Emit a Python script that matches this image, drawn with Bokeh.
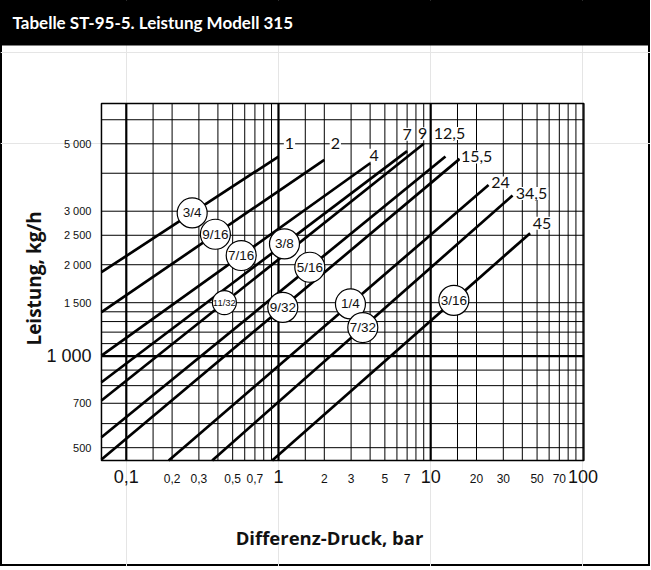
import math
from bokeh.plotting import figure
from bokeh.models import Label, Range1d, ColumnDataSource, BoxAnnotation
from bokeh.core.properties import value
from bokeh.embed import file_html
from bokeh.resources import INLINE

# ---------------- data ----------------
title_text = "Tabelle ST-95-5. Leistung Modell 315"
x_title = "Differenz-Druck, bar"
y_title = "Leistung, kg/h"

# orifice size of each line, max pressure (end of line) and its label
orifice = ["3/4", "9/16", "7/16", "3/8", "11/32", "5/16", "9/32", "1/4", "7/32", "3/16"]
p_max = [1, 2, 4, 7, 9, 12.5, 15.5, 24, 34.5, 45]
p_max_label = ["1", "2", "4", "7", "9", "12,5", "15,5", "24", "34,5", "45"]
q_at_pmax = [4540, 4430, 4315, 4730, 5000, 4540, 4460, 3660, 3380, 2540]
# lower start point of each line
dp_start = [0.0687, 0.0687, 0.0687, 0.0687, 0.0687, 0.0687, 0.0687, 0.190, 0.367, 0.909]
q_start = [1890, 1396, 1005, 821, 715, 541, 457, 454, 454, 454]
# pressure where the orifice badge sits on each line
badge_dp = [0.271, 0.385, 0.569, 1.095, 0.441, 1.606, 1.067, 2.97, 3.58, 14.2]

# axis ticks
x_tick_values = [0.1, 0.2, 0.3, 0.5, 0.7, 1, 2, 3, 5, 7, 10, 20, 30, 50, 70, 100]
x_tick_labels = ["0,1", "0,2", "0,3", "0,5", "0,7", "1", "2", "3", "5", "7",
                 "10", "20", "30", "50", "70", "100"]
x_tick_major = [0.1, 1, 10, 100]
y_tick_values = [5000, 3000, 2500, 2000, 1500, 1000, 700, 500]
y_tick_labels = ["5 000", "3 000", "2 500", "2 000", "1 500", "1 000", "700", "500"]
y_tick_major = [1000]

# grid of the log paper
x_grid_thin = [0.15, 0.2, 0.3, 0.4, 0.5, 0.6, 0.7, 0.8, 0.9, 1.5, 2, 3, 4, 5, 6, 7, 8, 9,
               15, 20, 30, 40, 50, 60, 70, 80, 90, 100]
x_grid_thick = [0.1, 1, 10]
y_grid_thin = [500, 600, 700, 800, 900, 1100, 1200, 1300, 1400, 1500, 2000, 2500,
               3000, 4000, 5000, 6000]
y_grid_thick = [1000]

# extent of the chart paper
x_lo, x_hi = 0.0687, 101.5
y_lo, y_hi = 454, 6785

# ---------------- figure (frame = whole card) ----------------
W, H = 650, 566
p = figure(width=W, height=H, x_axis_type="log", y_axis_type="log",
           x_range=Range1d(0.014913, 278.1), y_range=Range1d(203.2, 14810),
           x_axis_location=None, y_axis_location=None,
           toolbar_location=None, output_backend="svg",
           min_border_left=0, min_border_right=0, min_border_top=0, min_border_bottom=0)
p.outline_line_color = "black"
p.outline_line_width = 3
p.background_fill_color = "white"
p.border_fill_color = "white"

# title bar
p.add_layout(BoxAnnotation(bottom=10528, fill_color="black", fill_alpha=1,
                           line_alpha=0, level="underlay"))
p.text(x=[p.x_range.start], y=[p.y_range.end], text=[title_text], x_offset=12, y_offset=22,
       text_align="left", text_baseline="middle", text_color="white",
       text_font=value("Lato"), text_font_style="bold", text_font_size="17px")

# grid lines
p.segment(x0=x_grid_thin, y0=[y_lo] * len(x_grid_thin), x1=x_grid_thin, y1=[y_hi] * len(x_grid_thin),
          line_color="black", line_width=1)
p.segment(x0=x_grid_thick, y0=[y_lo] * len(x_grid_thick), x1=x_grid_thick, y1=[y_hi] * len(x_grid_thick),
          line_color="black", line_width=2.2)
p.segment(x0=[x_lo] * len(y_grid_thin), y0=y_grid_thin, x1=[x_hi] * len(y_grid_thin), y1=y_grid_thin,
          line_color="black", line_width=1)
p.segment(x0=[x_lo] * len(y_grid_thick), y0=y_grid_thick, x1=[x_hi] * len(y_grid_thick), y1=y_grid_thick,
          line_color="black", line_width=2.2)
p.quad(left=[x_lo], right=[x_hi], bottom=[y_lo], top=[y_hi], fill_alpha=0,
       line_color="black", line_width=1.5)

# capacity lines
xs = [[a, b] for a, b in zip(dp_start, p_max)]
ys = [[a, b] for a, b in zip(q_start, q_at_pmax)]
p.multi_line(xs, ys, line_color="black", line_width=2.7)

# badges on the lines
def q_on_line(i, dp):
    k = math.log(q_at_pmax[i] / q_start[i]) / math.log(p_max[i] / dp_start[i])
    return q_start[i] * (dp / dp_start[i]) ** k

bx = badge_dp
by = [q_on_line(i, d) for i, d in enumerate(badge_dp)]
bsize = [24 if o == "11/32" else 30 for o in orifice]
bfs = ["9.5px" if o == "11/32" else "13.5px" for o in orifice]
bsrc = ColumnDataSource(dict(x=bx, y=by, size=bsize, fs=bfs, t=orifice))
p.scatter("x", "y", size="size", marker="circle", source=bsrc,
          fill_color="white", line_color="black", line_width=1.2)
p.text("x", "y", text="t", source=bsrc, text_align="center", text_baseline="middle",
       text_font=value("Liberation Sans"), text_font_size="fs", text_color="#111111")

# max pressure labels at line ends (screen offsets)
lbl_off = [(11, 13), (11, 16), (4, 8), (0, 17), (-1, 10), (4, 23), (17, 2), (12, 2), (19, 2), (12, 10)]
for i, t in enumerate(p_max_label):
    dx, dy = lbl_off[i]
    p.add_layout(Label(x=p_max[i], y=q_at_pmax[i], x_offset=dx, y_offset=dy, text=t,
                       text_align="center", text_baseline="middle",
                       text_font="Lato", text_font_size="16px", text_color="#111111",
                       background_fill_color="white", padding=1))

# tick labels
xsrc = ColumnDataSource(dict(
    x=x_tick_values, y=[y_lo] * len(x_tick_values), t=x_tick_labels,
    fs=["18px" if v in x_tick_major else "12px" for v in x_tick_values],
    off=[16 if v in x_tick_major else 18 for v in x_tick_values]))
p.text("x", "y", text="t", source=xsrc, y_offset="off", text_align="center",
       text_baseline="middle", text_font=value("Liberation Sans"), text_font_size="fs",
       text_color="#111111")
ysrc = ColumnDataSource(dict(
    x=[x_lo] * len(y_tick_values), y=y_tick_values, t=y_tick_labels,
    fs=["18px" if v in y_tick_major else "11px" for v in y_tick_values]))
p.text("x", "y", text="t", source=ysrc, x_offset=-10, text_align="right",
       text_baseline="middle", text_font=value("Liberation Sans"), text_font_size="fs",
       text_color="#111111")

# axis titles
p.text(x=[x_lo], y=[y_lo], text=[x_title], x_offset=228, y_offset=77,
       text_align="center", text_baseline="middle", text_color="#111111",
       text_font=value("Open Sans"), text_font_style="bold", text_font_size="18.5px")
p.text(x=[x_lo], y=[y_lo], text=[y_title], x_offset=-67, y_offset=-182, angle=math.pi / 2,
       text_align="center", text_baseline="middle", text_color="#111111",
       text_font=value("Open Sans"), text_font_style="bold", text_font_size="19px")

open("out.html", "w").write(file_html(p, INLINE))
